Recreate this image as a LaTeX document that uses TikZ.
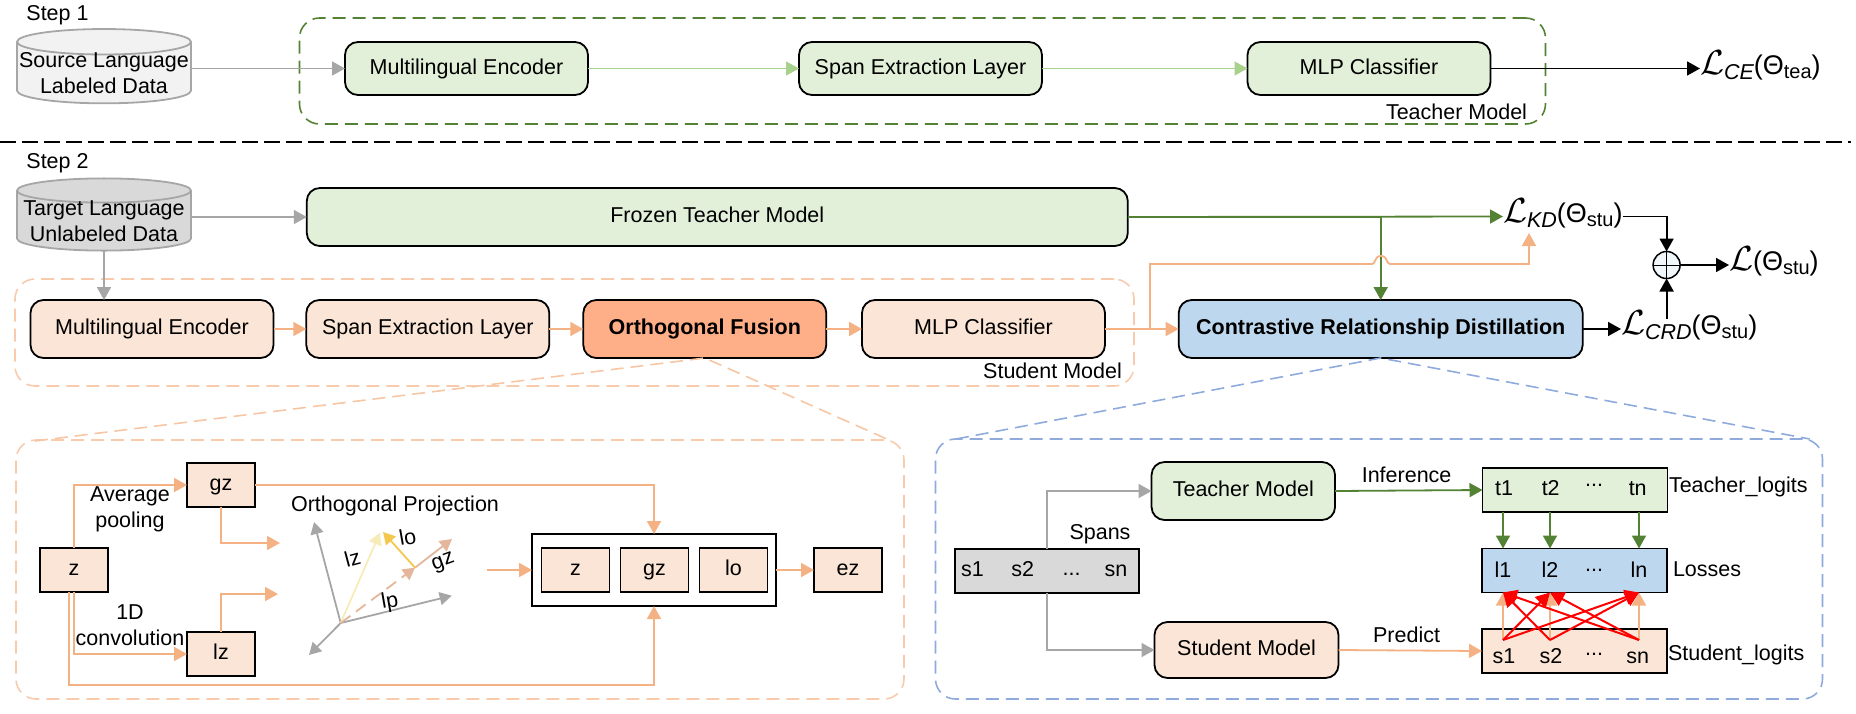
\documentclass[tikz,border=0pt]{standalone}
\usepackage{amsmath}
\usepackage{amssymb}
\usepackage{fontspec}
\setmainfont{Liberation Sans}
\usepackage{tikz}
\usetikzlibrary{arrows.meta,positioning,calc,shapes.geometric}
\definecolor{tfill}{HTML}{E2F0D9}
\definecolor{sfill}{HTML}{FBE5D6}
\definecolor{ofill}{HTML}{FFAF88}
\definecolor{cfill}{HTML}{BDD7EE}
\definecolor{dgreen}{HTML}{548235}
\definecolor{lgreen}{HTML}{A9D18E}
\definecolor{peach}{HTML}{F4B183}
\definecolor{lpeach}{HTML}{F8CBAD}
\definecolor{lblue}{HTML}{8FAADC}
\definecolor{gline}{HTML}{A6A6A6}
\definecolor{vgz}{HTML}{E4B69B}
\definecolor{vlz}{HTML}{F7EBB8}
\definecolor{vlo}{HTML}{F4C84F}
\newcommand{\lossl}[2]{\scalebox{1.4}{\fontsize{24}{24}\selectfont$\mathcal{L}$}\raisebox{-5pt}{\fontsize{21.5}{26}\selectfont\itshape #1}{\fontsize{27}{30}\selectfont(Θ}\raisebox{-4pt}{\fontsize{20}{24}\selectfont #2}{\fontsize{27}{30}\selectfont)}}
\begin{document}
\begin{tikzpicture}
[x=1pt,y=-1pt,
every node/.style={inner sep=0pt,outer sep=0pt,font=\fontsize{21.5}{26}\selectfont,text height=15.5pt,text depth=4.5pt},
ml/.style={align=center,text height={},text depth={}},
rb/.style={draw=black,line width=1.8pt,rounded corners=13pt},
tb/.style={rb,fill=tfill,minimum width=243pt,minimum height=53pt},
sb/.style={rb,fill=sfill,minimum width=243pt,minimum height=58pt},
sq/.style={draw=black,line width=1.8pt,fill=sfill,minimum width=68pt,minimum height=44pt},
row/.style={draw=black,line width=1.8pt,minimum width=185pt,minimum height=44pt},
db/.style={ml,cylinder,shape border rotate=90,shape aspect=0.15,inner ysep=-3pt,draw=gline,line width=1.8pt,cylinder uses custom fill,minimum width=174pt,minimum height=60pt},
gp/.style={draw=#1,line width=1.6pt,dash pattern=on 13pt off 7pt,rounded corners=20pt},
gar/.style={draw=gline,line width=1.8pt,-{Triangle[length=13pt,width=14pt]}},
lg/.style={draw=lgreen,line width=1.6pt,-{Triangle[length=13pt,width=14pt]}},
dg/.style={draw=dgreen,line width=1.8pt,-{Triangle[length=13pt,width=14pt]}},
pk/.style={draw=peach,line width=1.8pt,-{Triangle[length=13pt,width=14pt]}},
bk/.style={draw=black,line width=1.8pt,-{Triangle[length=13pt,width=14pt]}},
rd/.style={draw=red,line width=2pt,-{Triangle[length=14pt,width=15pt]}},
vec/.style={line width=1.8pt,-{Triangle[length=12pt,width=13pt]}}]
\useasboundingbox (0,0) rectangle (1856,713);
\node (step1) at (57.5,15) {Step 1};
\node (step2) at (57.5,163) {Step 2};
\node[gp=dgreen,minimum width=1246pt,minimum height=106pt] (tgroup) at (922.5,71) {};
\node[gp=lpeach,minimum width=1119pt,minimum height=107pt] (sgroup) at (574.5,332.5) {};
\node[gp=lpeach,minimum width=888pt,minimum height=259pt] (opanel) at (460,569.5) {};
\node[gp=lblue,minimum width=887pt,minimum height=260pt] (cpanel) at (1379,569) {};
\node[db,cylinder body fill=black!5,cylinder end fill=black!5] (src) at (104,73) {Source Language\\Labeled Data};
\node[db,cylinder body fill=black!15,cylinder end fill=black!15] (tgt) at (104,221) {Target Language\\Unlabeled Data};
\node[tb] (tenc) at (466.5,68.5) {Multilingual Encoder};
\node[tb] (tspan) at (920.5,68.5) {Span Extraction Layer};
\node[tb] (tmlp) at (1369,68.5) {MLP Classifier};
\node (tname) at (1456.5,113.5) {Teacher Model};
\node[anchor=west] (lce) at (1700,68.5) {\lossl{CE}{tea}};
\node[tb,minimum width=821pt,minimum height=58pt] (frozen) at (717.3,217) {Frozen Teacher Model};
\node[sb] (senc) at (152,329) {Multilingual Encoder};
\node[sb] (sspan) at (427.8,329) {Span Extraction Layer};
\node[sb,fill=ofill,font=\fontsize{21.5}{26}\selectfont\bfseries] (orth) at (704.8,329) {Orthogonal Fusion};
\node[sb] (smlp) at (983.5,329) {MLP Classifier};
\node[sb,fill=cfill,minimum width=404pt,font=\fontsize{21.5}{26}\selectfont\bfseries] (crd) at (1380.7,329) {Contrastive Relationship Distillation};
\node (sname) at (1052.5,373) {Student Model};
\node[anchor=west] (lkd) at (1503,216.5) {\lossl{KD}{stu}};
\node[anchor=west] (lcrd) at (1621,329) {\lossl{CRD}{stu}};
\node[anchor=west] (lall) at (1729,265) {\scalebox{1.4}{\fontsize{24}{24}\selectfont$\mathcal{L}$}{\fontsize{27}{30}\selectfont(Θ}\raisebox{-4pt}{\fontsize{20}{24}\selectfont stu}{\fontsize{27}{30}\selectfont)}};
\node[ml,circle,draw=black,line width=1.5pt,fill=cfill!20,minimum size=27pt] (plus) at (1666.6,265) {};
\coordinate (dl) at (0,141.7);
\coordinate (dr) at (1851,141.7);
\coordinate (kdin) at (1529,233);
\coordinate (turn) at (1150,329);
\draw[black,line width=2pt,dash pattern=on 16pt off 6pt] (dl) -- (dr);
\draw[gar] (src.east |- tenc) -- (tenc.west);
\draw[lg] (tenc.east) -- (tspan.west);
\draw[lg] (tspan.east) -- (tmlp.west);
\draw[bk] (tmlp.east) -- (lce.west);
\draw[gar] (tgt.east |- frozen) -- (frozen.west);
\draw[gar] (tgt.south) -- (tgt.south |- senc.north);
\draw[dg] (frozen.east) -- (lkd.west);
\draw[dgreen,line width=2.8pt] (frozen.east) -- (crd.north |- frozen);
\draw[dg] (crd.north |- frozen) -- (crd.north);
\draw[pk] (senc.east) -- (sspan.west);
\draw[pk] (sspan.east) -- (orth.west);
\draw[pk] (orth.east) -- (smlp.west);
\draw[pk] (smlp.east) -- (crd.west);
\draw[peach,line width=1.8pt,-{Triangle[length=13pt,width=14pt]}] (turn) -- (1150,264) -- (1372,264) .. controls (1376,264) and (1374,256) .. (1381,256) .. controls (1388,256) and (1386,264) .. (1390,264) -- (1529,264) -- (kdin);
\draw[bk] (crd.east) -- (lcrd.west);
\draw[bk] (lkd.east) -| (plus.north);
\draw[bk] (plus |- lcrd.north) -- (plus.south);
\draw[black,line width=1pt] (plus.north) -- (plus.south);
\draw[black,line width=1pt] (plus.west) -- (plus.east);
\draw[bk] (plus.east) -- (lall.west);
\coordinate (ol) at (35,441);
\coordinate (or) at (889,440);
\coordinate (cl) at (956,439);
\coordinate (cr) at (1809.6,439);
\draw[lpeach!80!peach,line width=1.6pt,dash pattern=on 13pt off 7pt] (ol) -- (orth.south) -- (or);
\draw[lblue,line width=1.6pt,dash pattern=on 13pt off 7pt] (cl) -- (crd.south) -- (cr);
\node[sq] (z) at (74,570) {z};
\node[sq] (gz) at (221,485) {gz};
\node[sq] (lz) at (221,654) {lz};
\node[ml] (avg) at (130,509.5) {Average\\pooling};
\node[ml] (conv) at (130,625) {1D\\convolution};
\node (oproj) at (395,506) {Orthogonal Projection};
\node[draw=black,line width=1.8pt,minimum width=244pt,minimum height=72pt] (cat) at (654,570) {};
\node[sq] (cz) at (575.5,570) {z};
\node[sq] (cgz) at (654.5,570) {gz};
\node[sq] (clo) at (733.5,570) {lo};
\node[sq] (ez) at (848,570) {ez};
\coordinate (gzin) at (280,543);
\coordinate (lzin) at (278,594);
\coordinate (ovec) at (487,570);
\coordinate (zout) at (68.7,592);
\draw[pk] (z.north) |- (gz.west);
\draw[pk] (z.south) |- (lz.west);
\draw[pk] (zout) |- (654,685) -- (cat.south);
\draw[pk] (gz.east) -| (cat.north);
\draw[pk] (gz.south) |- (gzin);
\draw[pk] (lz.north) |- (lzin);
\draw[pk] (ovec) -- (cat.west);
\draw[pk] (cat.east) -- (ez.west);
\coordinate (o) at (340.7,623);
\coordinate (up) at (314,522);
\coordinate (dn) at (309,655);
\coordinate (p) at (451.7,595.7);
\coordinate (q) at (380,532.7);
\coordinate (m) at (415,567.7);
\coordinate (g) at (452,539);
\coordinate (h) at (383,532);
\draw[vec,gline] (o) -- (up);
\draw[vec,gline] (o) -- (dn);
\draw[vec,gline] (o) -- (p);
\draw[vec,vlz] (o) -- (q);
\draw[vec,vgz,dash pattern=on 12pt off 7pt] (o) -- (m);
\draw[vec,vgz] (m) -- (g);
\draw[vec,vlo] (m) -- (h);
\node[rotate=15] (llz) at (353,560) {lz};
\node[rotate=10] (llo) at (408,539) {lo};
\node[rotate=20] (lgz) at (443,561) {gz};
\node[rotate=10] (llp) at (390,602) {lp};
\node[draw=black,line width=1.8pt,fill=black!15,minimum width=184pt,minimum height=44pt] (spans) at (1047,571) {};
\node (s1a) at (972.5,571) {s1};
\node (s2a) at (1022.7,571) {s2};
\node (dota) at (1071.6,570) {...};
\node (sna) at (1116,571) {sn};
\node (spname) at (1100,533.7) {Spans};
\node[tb,minimum width=183.5pt,minimum height=58pt] (tm) at (1243.3,491) {Teacher Model};
\node[sb,minimum width=184pt,minimum height=56pt] (sm) at (1246.5,650) {Student Model};
\node (inf) at (1406.6,476.7) {Inference};
\node (pred) at (1406.6,637) {Predict};
\node[row,fill=tfill] (tlog) at (1575,490) {};
\node[row,fill=cfill] (loss) at (1574.5,570.5) {};
\node[row,fill=sfill] (slog) at (1574.5,651) {};
\node (t1) at (1504,490) {t1};
\node (t2) at (1550.7,490) {t2};
\node (t3) at (1594,481) {...};
\node (tn) at (1637.7,490) {tn};
\node (l1) at (1503,572) {l1};
\node (l2) at (1550,572) {l2};
\node (l3) at (1594,566) {...};
\node (ln) at (1639,572) {ln};
\node (s1) at (1504,658) {s1};
\node (s2) at (1551,658) {s2};
\node (s3) at (1594,650) {...};
\node (sn) at (1637.7,658) {sn};
\node[anchor=west] (tlname) at (1669,486.7) {Teacher\_logits};
\node[anchor=west] (lsname) at (1673,571) {Losses};
\node[anchor=west] (slname) at (1668,655) {Student\_logits};
\coordinate (a1) at (1503,640);
\coordinate (a2) at (1550,640);
\coordinate (a3) at (1639,640);
\draw[gar] (spans.north) |- (tm.west);
\draw[gar] (spans.south) |- (sm.west);
\draw[dg] (tm.east) -- (tlog.west);
\draw[pk] (sm.east) -- (slog.west);
\draw[dg] (l1 |- tlog.south) -- (l1 |- loss.north);
\draw[dg] (l2 |- tlog.south) -- (l2 |- loss.north);
\draw[dg] (ln |- tlog.south) -- (ln |- loss.north);
\draw[pk] (a1) -- (l1 |- loss.south);
\draw[pk] (a2) -- (l2 |- loss.south);
\draw[pk] (a3) -- (ln |- loss.south);
\draw[rd] (a1) -- (l2 |- loss.south);
\draw[rd] (a1) -- (ln |- loss.south);
\draw[rd] (a2) -- (l1 |- loss.south);
\draw[rd] (a2) -- (ln |- loss.south);
\draw[rd] (a3) -- (l1 |- loss.south);
\draw[rd] (a3) -- (l2 |- loss.south);
\end{tikzpicture}
\end{document}
